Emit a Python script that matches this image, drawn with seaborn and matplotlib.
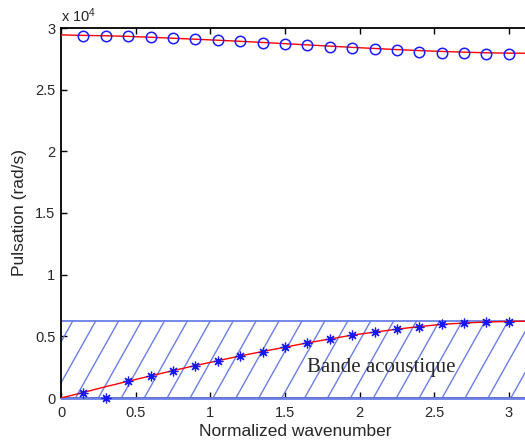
import numpy as np
import pandas as pd
import matplotlib
matplotlib.use("Agg")
import matplotlib.pyplot as plt
import seaborn as sns
from matplotlib.ticker import FuncFormatter, MultipleLocator

# wavenumbers of the computed points
k_pts = [0.15, 0.30, 0.45, 0.60, 0.75, 0.90, 1.05, 1.20, 1.35, 1.50,
         1.65, 1.80, 1.95, 2.10, 2.25, 2.40, 2.55, 2.70, 2.85, 3.00]
optical_pts = [29380, 29380, 29330, 29250, 29170, 29110, 29030, 28950, 28820, 28710,
               28610, 28490, 28410, 28300, 28220, 28060, 28000, 27980, 27920, 27920]
acoustic_pts = [430, 0, 1340, 1770, 2210, 2620, 3000, 3410, 3770, 4120,
                4490, 4770, 5110, 5340, 5580, 5790, 5980, 6070, 6140, 6190]

# analytical curves (red)
k_line = [0.0, 0.15, 0.30, 0.45, 0.60, 0.75, 0.90, 1.05, 1.20, 1.35, 1.50,
          1.65, 1.80, 1.95, 2.10, 2.25, 2.40, 2.55, 2.70, 2.85, 3.00, 3.1416]
optical_line = [29440, 29400, 29370, 29320, 29250, 29170, 29090, 29010, 28920, 28830, 28730,
                28630, 28530, 28430, 28340, 28250, 28170, 28100, 28040, 27990, 27960, 27950]
acoustic_line = [0, 450, 920, 1360, 1790, 2220, 2630, 3020, 3410, 3770, 4120,
                 4470, 4780, 5100, 5340, 5580, 5790, 5970, 6080, 6160, 6210, 6230]

band_top = 6270
band_label = "Bande acoustique"

sns.set_theme(style="white")
plt.rcParams['font.family'] = ['Liberation Sans', 'DejaVu Sans']
plt.rcParams['mathtext.fontset'] = 'custom'
plt.rcParams['mathtext.rm'] = 'Liberation Sans'
plt.rcParams['mathtext.it'] = 'Liberation Sans:italic'

fig = plt.figure(figsize=(5.25, 4.41), dpi=100)
ax = fig.add_axes([61 / 525, 43 / 441, 469 / 525, 370 / 441])

band_col = '#6b7fe6'

# hatched acoustic band
slant = 0.29
step = 0.1535
x_tops = 0.080 + step * np.arange(-3, 22)
for xt in x_tops:
    ax.plot([xt - slant, xt], [0, band_top], color=band_col, lw=1.0, zorder=1)
ax.plot([0, np.pi], [band_top, band_top], color=band_col, lw=1.3, zorder=1)
ax.plot([0, np.pi], [0, 0], color=band_col, lw=2.0, zorder=3, clip_on=False)

lines = pd.DataFrame({"k": k_line, "opt": optical_line, "ac": acoustic_line})
pts = pd.DataFrame({"k": k_pts, "opt": optical_pts, "ac": acoustic_pts})

sns.lineplot(data=lines, x="k", y="opt", color="red", lw=1.0, sort=False,
             estimator=None, ax=ax, zorder=4)
sns.lineplot(data=lines, x="k", y="ac", color="red", lw=1.0, sort=False,
             estimator=None, ax=ax, zorder=4)
sns.lineplot(data=pts, x="k", y="opt", linestyle="", marker="o", markersize=7.5,
             markerfacecolor="none", markeredgecolor="#1a1aff", markeredgewidth=1.1,
             sort=False, estimator=None, ax=ax, zorder=5)
sns.lineplot(data=pts, x="k", y="ac", linestyle="", marker=(8, 2, 0), markersize=7,
             color="#1818f0", markeredgecolor="#1818f0", markeredgewidth=0.9,
             sort=False, estimator=None, ax=ax, zorder=5, clip_on=False)

ax.text(1.646, 2120, band_label, family=['Liberation Serif', 'DejaVu Serif'],
        fontsize=15, va='baseline', ha='left', zorder=6)

ax.set_xlim(0, np.pi)
ax.set_ylim(0, 30000)
ax.xaxis.set_major_locator(MultipleLocator(0.5))
ax.yaxis.set_major_locator(MultipleLocator(5000))
ax.xaxis.set_major_formatter(FuncFormatter(lambda v, p: f"{v:g}"))
ax.yaxis.set_major_formatter(FuncFormatter(lambda v, p: f"{v / 1e4:g}"))
ax.tick_params(direction='in', length=4, width=1, labelsize=10.5, color='black',
               top=True, bottom=True, left=True, right=False)
ax.tick_params(axis='x', pad=6)
ax.tick_params(axis='y', pad=4)
for side in ['left', 'top', 'bottom']:
    ax.spines[side].set_color('black')
    ax.spines[side].set_linewidth(1.3)
ax.spines['right'].set_visible(False)

ax.set_xlabel("Normalized wavenumber", fontsize=12.5, labelpad=3)
ax.set_ylabel("Pulsation (rad/s)", fontsize=12.5, labelpad=6)
ax.text(0, 1.017, "x 10$^{4}$", transform=ax.transAxes, fontsize=10.5,
        va='baseline', ha='left')

fig.savefig("out.png", dpi=100)
